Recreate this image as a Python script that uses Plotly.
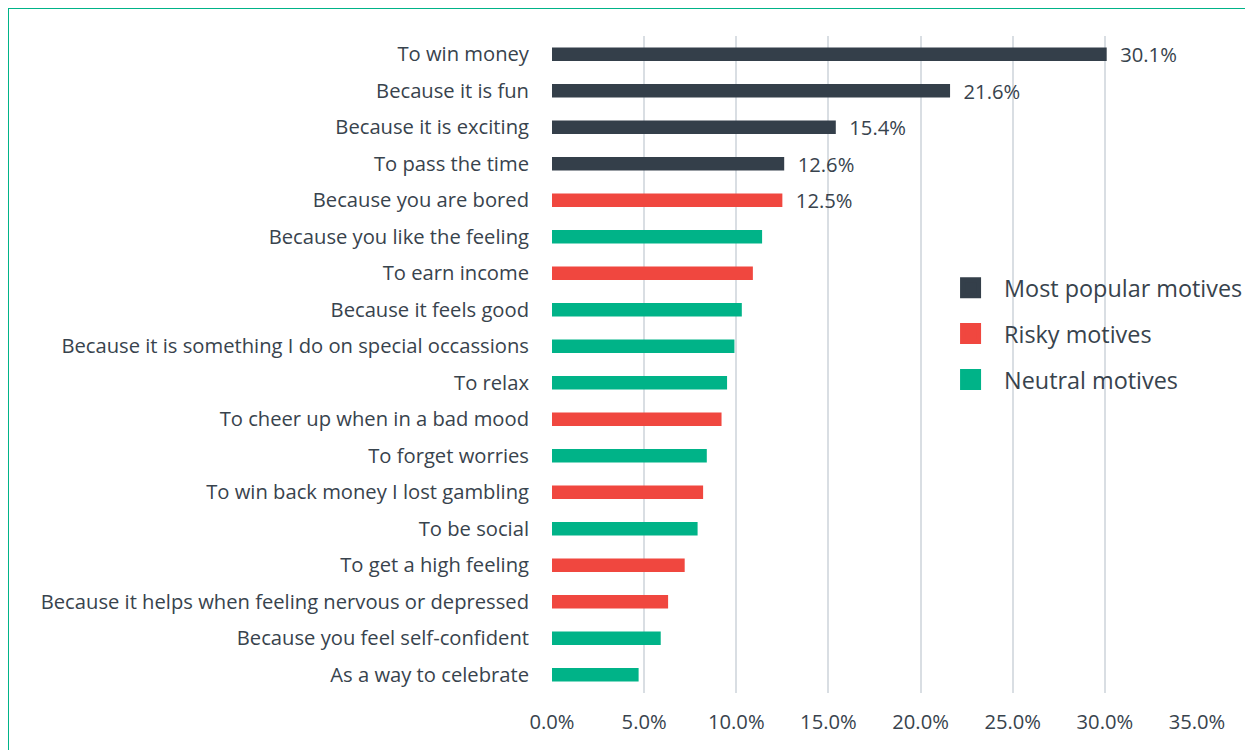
import plotly.graph_objects as go

# motives, top to bottom as in the chart
motives = [
    "To win money",
    "Because it is fun",
    "Because it is exciting",
    "To pass the time",
    "Because you are bored",
    "Because you like the feeling",
    "To earn income",
    "Because it feels good",
    "Because it is something I do on special occassions",
    "To relax",
    "To cheer up when in a bad mood",
    "To forget worries",
    "To win back money I lost gambling",
    "To be social",
    "To get a high feeling",
    "Because it helps when feeling nervous or depressed",
    "Because you feel self-confident",
    "As a way to celebrate",
]
share = [30.1, 21.6, 15.4, 12.6, 12.5, 11.4, 10.9, 10.3, 9.9, 9.5,
         9.2, 8.4, 8.2, 7.9, 7.2, 6.3, 5.9, 4.7]
group = ["popular", "popular", "popular", "popular", "risky", "neutral",
         "risky", "neutral", "neutral", "neutral", "risky", "neutral",
         "risky", "neutral", "risky", "risky", "neutral", "neutral"]
labelled = 5  # only the top five bars carry a value label

groups = ["popular", "risky", "neutral"]
group_names = ["Most popular motives", "Risky motives", "Neutral motives"]
group_colors = ["#343F4A", "#F0473F", "#00B388"]

x_ticks = [0, 5, 10, 15, 20, 25, 30, 35]

TXT = "#38434D"
FONT = "Open Sans"
FS = 20.2
# page body keeps an 8px margin, so the figure is 8px smaller
W, H = 1245, 742
M = dict(l=544, r=56, t=28, b=57, autoexpand=False)

fig = go.Figure()

for g, name, col in zip(groups, group_names, group_colors):
    ys, xs, tx = [], [], []
    for i, m in enumerate(motives):
        if group[i] != g:
            continue
        ys.append(m)
        xs.append(share[i])
        tx.append("\u00a0\u00a0%.1f%%" % share[i] if i < labelled else "")
    fig.add_trace(go.Bar(
        y=ys, x=xs, orientation="h", name=name,
        marker=dict(color=col, line=dict(width=0)),
        text=tx, textposition="outside", cliponaxis=False,
        constraintext="none",
        textfont=dict(family=FONT, size=FS, color=TXT),
        showlegend=False, hoverinfo="x+y",
    ))

# legend-only entries with bigger square symbols
for g, name, col in zip(groups, group_names, group_colors):
    fig.add_trace(go.Scatter(
        x=[None], y=[None], mode="markers", name=name, legendgroup=g,
        marker=dict(symbol="square", size=16, color=col,
                    line=dict(color=col, width=5)),
    ))

# thin green frame around the whole chart
pw = W - M["l"] - M["r"]
ph = H - M["t"] - M["b"]
fig.add_shape(type="rect", xref="paper", yref="paper",
              x0=(0 - M["l"]) / pw, x1=1 + (W + 20 - M["l"] - pw) / pw,
              y0=-(M["b"] + 20) / ph, y1=1 + (M["t"] - 0) / ph,
              line=dict(color="#00B388", width=2), layer="below")

fig.update_layout(
    width=W, height=H, margin=M,
    paper_bgcolor="white", plot_bgcolor="white",
    barmode="relative", bargap=0.63,
    font=dict(family=FONT, size=FS, color=TXT),
    legend=dict(
        x=0.597, xanchor="left", y=0.65, yanchor="top",
        font=dict(family=FONT, size=23.4, color=TXT),
        itemwidth=57, tracegroupgap=12.5, bgcolor="rgba(0,0,0,0)",
    ),
    xaxis=dict(
        range=[0, 35], tickvals=x_ticks,
        ticktext=["%.1f%%" % v for v in x_ticks],
        showgrid=True, gridcolor="#D9DEE3", gridwidth=2,
        zeroline=False, showline=False, ticks="",
        ticklabelstandoff=15, fixedrange=True,
    ),
    yaxis=dict(
        categoryorder="array", categoryarray=motives[::-1],
        showgrid=False, showline=False, ticks="",
        ticklabelstandoff=22, fixedrange=True,
    ),
)

fig.write_html("out.html")
